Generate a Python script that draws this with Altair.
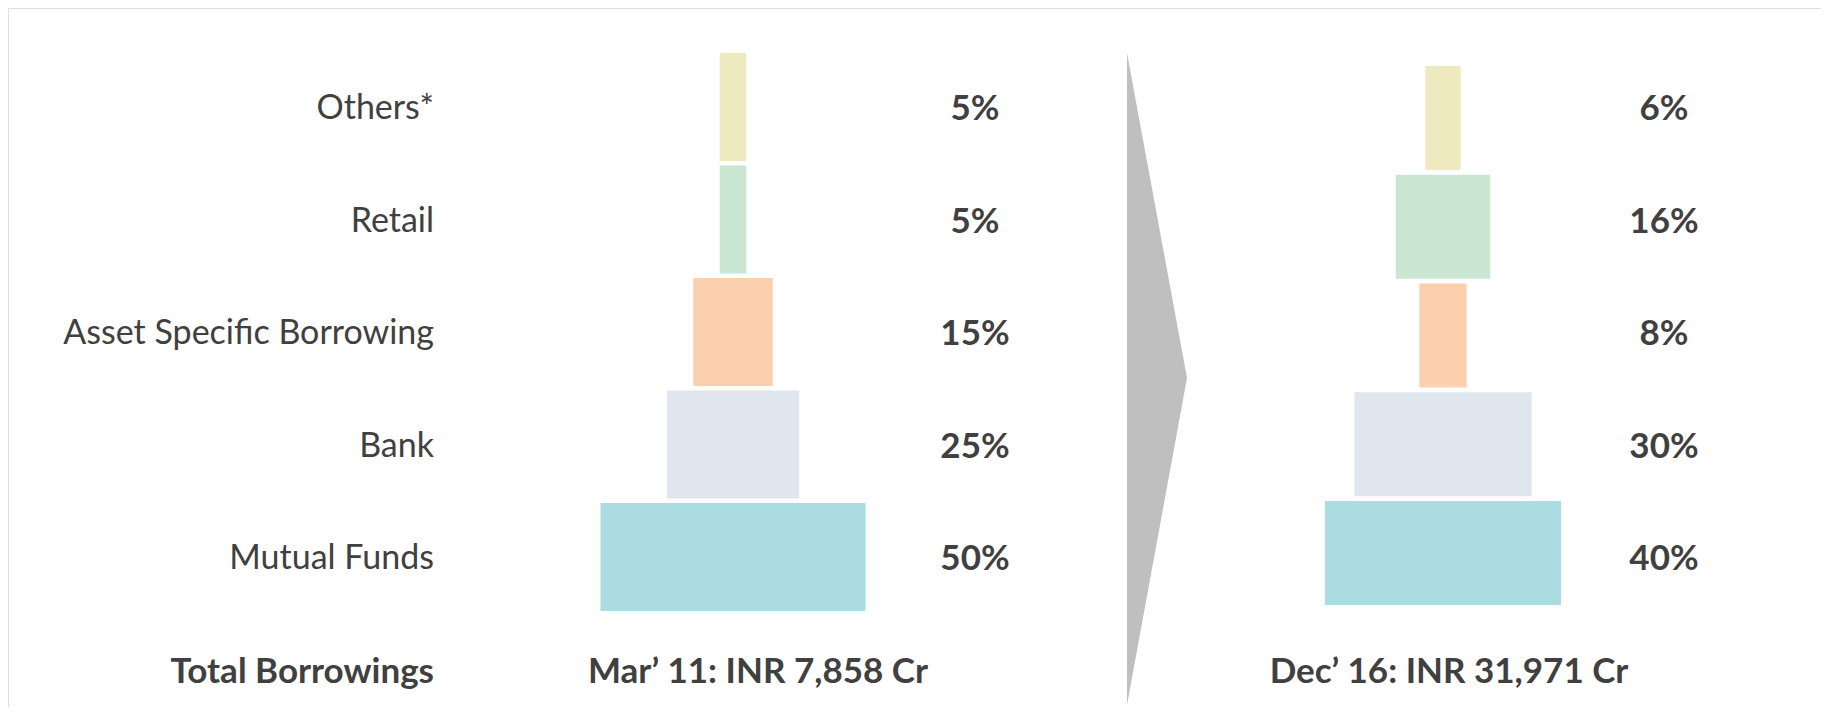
import altair as alt
import pandas as pd

# ---------------- data ----------------
categories = ["Others*", "Retail", "Asset Specific Borrowing", "Bank", "Mutual Funds"]
share_mar11 = [5, 5, 15, 25, 50]
share_dec16 = [6, 16, 8, 30, 40]
pct_mar11 = ["5%", "5%", "15%", "25%", "50%"]
pct_dec16 = ["6%", "16%", "8%", "30%", "40%"]
period_titles = ["Mar\u2019 11: INR 7,858 Cr", "Dec\u2019 16: INR 31,971 Cr"]
total_label = ["Total Borrowings"]
colors = ["#EEE9BF", "#CAE6D1", "#FBD0AE", "#DFE6EE", "#ABDCE2"]

# ---------------- layout constants (chart units = px) ----------------
W, H = 1813, 699
FONT = "Lato"
FS_REG = 34
FS_BOLD = 35
TXT = "#404040"
LABEL_RIGHT = 426
ROW0, ROW_STEP = 101, 112.5          # text row centres
L_CENTER, L_PX, L_TOP, L_STEP, L_H = 725, 5.30, 45, 112.5, 108
R_CENTER, R_PX, R_TOP, R_STEP, R_H = 1435, 5.906, 58, 108.75, 104
L_PCT_X, R_PCT_X = 967, 1656
L_TITLE_X, R_TITLE_X = 750, 1441
ARROW_LEFT, ARROW_TIP = 1119, 1179
ARROW_TOP, ARROW_MID, ARROW_BOTTOM = 45, 370, 697

xs = alt.Scale(domain=[0, W], nice=False, zero=False)
ys = alt.Scale(domain=[0, H], nice=False, zero=False, reverse=True)


def X(f):
    return alt.X(f, type="quantitative", scale=xs, axis=None)


def Y(f):
    return alt.Y(f, type="quantitative", scale=ys, axis=None)


color = alt.Color("category:N", scale=alt.Scale(domain=categories, range=colors), legend=None)

df_mar = pd.DataFrame({"category": categories, "row": range(5), "share": share_mar11, "pct": pct_mar11})
df_dec = pd.DataFrame({"category": categories, "row": range(5), "share": share_dec16, "pct": pct_dec16})

left_bars = alt.Chart(df_mar).transform_calculate(
    xa=f"{L_CENTER} - datum.share * {L_PX} / 2",
    xb=f"{L_CENTER} + datum.share * {L_PX} / 2",
    ya=f"{L_TOP} + datum.row * {L_STEP}",
    yb=f"{L_TOP} + datum.row * {L_STEP} + {L_H}",
).mark_rect().encode(x=X("xa"), x2="xb:Q", y=Y("ya"), y2="yb:Q", color=color)

right_bars = alt.Chart(df_dec).transform_calculate(
    xa=f"{R_CENTER} - datum.share * {R_PX} / 2",
    xb=f"{R_CENTER} + datum.share * {R_PX} / 2",
    ya=f"{R_TOP} + datum.row * {R_STEP}",
    yb=f"{R_TOP} + datum.row * {R_STEP} + {R_H}",
).mark_rect().encode(x=X("xa"), x2="xb:Q", y=Y("ya"), y2="yb:Q", color=color)

labels = alt.Chart(df_mar).transform_calculate(
    tx=f"{LABEL_RIGHT}", ty=f"{ROW0} + datum.row * {ROW_STEP}"
).mark_text(align="right", baseline="middle", font=FONT, fontSize=FS_REG, color=TXT).encode(
    x=X("tx"), y=Y("ty"), text="category:N")

left_pct = alt.Chart(df_mar).transform_calculate(
    tx=f"{L_PCT_X}", ty=f"{ROW0} + datum.row * {ROW_STEP}"
).mark_text(align="center", baseline="middle", font=FONT, fontSize=FS_BOLD, fontWeight="bold", color=TXT).encode(
    x=X("tx"), y=Y("ty"), text="pct:N")

right_pct = alt.Chart(df_dec).transform_calculate(
    tx=f"{R_PCT_X}", ty=f"{ROW0} + datum.row * {ROW_STEP}"
).mark_text(align="center", baseline="middle", font=FONT, fontSize=FS_BOLD, fontWeight="bold", color=TXT).encode(
    x=X("tx"), y=Y("ty"), text="pct:N")

df_total = pd.DataFrame({"label": total_label})
total_txt = alt.Chart(df_total).transform_calculate(
    tx=f"{LABEL_RIGHT}", ty=f"{ROW0} + 5 * {ROW_STEP}"
).mark_text(align="right", baseline="middle", font=FONT, fontSize=FS_BOLD, fontWeight="bold", color=TXT).encode(
    x=X("tx"), y=Y("ty"), text="label:N")

df_titles = pd.DataFrame({"title": period_titles, "col": [0, 1]})
titles = alt.Chart(df_titles).transform_calculate(
    tx=f"datum.col == 0 ? {L_TITLE_X} : {R_TITLE_X}", ty=f"{ROW0} + 5 * {ROW_STEP}"
).mark_text(align="center", baseline="middle", font=FONT, fontSize=FS_BOLD, fontWeight="bold", color=TXT).encode(
    x=X("tx"), y=Y("ty"), text="title:N")

df_arrow = pd.DataFrame({
    "ay": [ARROW_TOP, ARROW_MID, ARROW_BOTTOM],
    "ax": [ARROW_LEFT, ARROW_TIP, ARROW_LEFT],
    "ax2": [ARROW_LEFT, ARROW_LEFT, ARROW_LEFT],
})
arrow = alt.Chart(df_arrow).mark_area(orient="horizontal", color="#BFBFBF").encode(
    y=Y("ay"), x=X("ax"), x2="ax2:Q")

chart = alt.layer(arrow, left_bars, right_bars, labels, total_txt, left_pct, right_pct, titles).properties(
    width=W, height=H, padding=0,
    autosize=alt.AutoSizeParams(type="fit", contains="padding"),
).configure_view(stroke="#D9D9D9", strokeWidth=1.5).configure(background="white")

chart.save("out.html", embed_options={"renderer": "svg", "actions": False})
